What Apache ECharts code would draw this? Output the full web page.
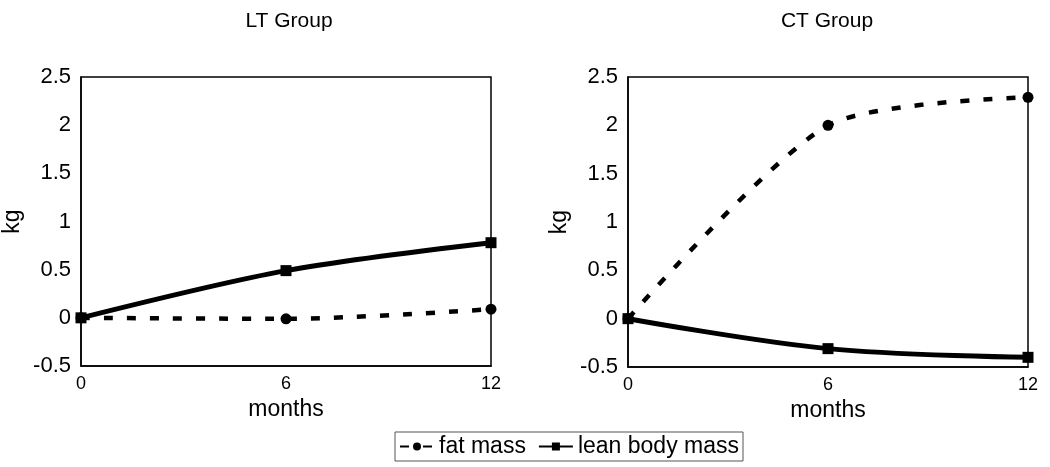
<!DOCTYPE html>
<html><head><meta charset="utf-8">
<script src="https://cdn.jsdelivr.net/npm/echarts@6/dist/echarts.min.js"></script>
<style>html,body{margin:0;padding:0;background:#fff}#c{width:1050px;height:467px}</style>
</head><body><div id="c"></div>
<script>
const months = [0, 6, 12];
const ltFat = [0, -0.01, 0.09];
const ltLean = [0, 0.49, 0.78];
const ctFat = [0, 2.0, 2.29];
const ctLean = [0, -0.31, -0.4];
const titles = ['LT Group', 'CT Group'];
const seriesNames = ['fat mass', 'lean body mass'];

const font = 'Liberation Sans, Arial, sans-serif';
const chart = echarts.init(document.getElementById('c'));
const grids = [
  {left: 79, top: 77, width: 412, height: 289},
  {left: 628, top: 77, width: 400, height: 290}
];
function xAxis(i){return {type:'value', gridIndex:i, min:0, max:12, interval:6,
  axisLine:{show:true, onZero:false, lineStyle:{color:'#000', width:1.5}},
  axisTick:{show:false}, splitLine:{show:false},
  axisLabel:{color:'#000', fontSize:18, fontFamily:font, margin:9},
  name:'months', nameLocation:'middle', nameGap:29,
  nameTextStyle:{color:'#000', fontSize:23, fontFamily:font, letterSpacing:-2}};}
function yAxis(i){return {type:'value', gridIndex:i, min:-0.5, max:2.5, interval:0.5,
  axisLine:{show:true, lineStyle:{color:'#000', width:1.5}},
  axisTick:{show:false}, splitLine:{show:false},
  axisLabel:{color:'#000', fontSize:22, fontFamily:font, margin:10,
    formatter: v => String(Math.round(v*10)/10)},
  name:'kg', nameLocation:'middle', nameGap:57, nameRotate:90,
  nameTextStyle:{color:'#000', fontSize:23, fontFamily:font}};}
function pts(arr){return months.map((m,k)=>[m, arr[k]]);}
function fatS(i, arr, sm){return {name:seriesNames[0], type:'line', xAxisIndex:i, yAxisIndex:i,
  data:pts(arr), smooth:sm, symbol:'circle', symbolSize:11,
  lineStyle:{color:'#000', width:4.5, type:[9,14]}, itemStyle:{color:'#000'}};}
function leanS(i, arr, sm){return {name:seriesNames[1], type:'line', xAxisIndex:i, yAxisIndex:i,
  data:pts(arr), smooth:sm, symbol:'rect', symbolSize:11,
  lineStyle:{color:'#000', width:5}, itemStyle:{color:'#000'}};}
chart.setOption({
  animation:false,
  title: [
    {text:titles[0], left:284, top:6, textAlign:'center', textStyle:{fontSize:21, fontWeight:'normal', color:'#000', fontFamily:font}},
    {text:titles[1], left:822, top:6, textAlign:'center', textStyle:{fontSize:21, fontWeight:'normal', color:'#000', fontFamily:font}}
  ],
  grid: grids.map(g => Object.assign({show:true, borderColor:'#000', borderWidth:1.5, containLabel:false}, g)),
  xAxis:[xAxis(0), xAxis(1)],
  yAxis:[yAxis(0), yAxis(1)],
  legend:{data:seriesNames, left:395, top:432, itemGap:12, itemWidth:34, itemHeight:10,
    borderColor:'#555', borderWidth:1, padding:[3,4,3,4],
    textStyle:{fontSize:23, color:'#000', fontFamily:font}},
  series:[fatS(0, ltFat, 0.3), leanS(0, ltLean, 0.3), fatS(1, ctFat, 0.25), leanS(1, ctLean, 0.35)]
});
</script></body></html>
